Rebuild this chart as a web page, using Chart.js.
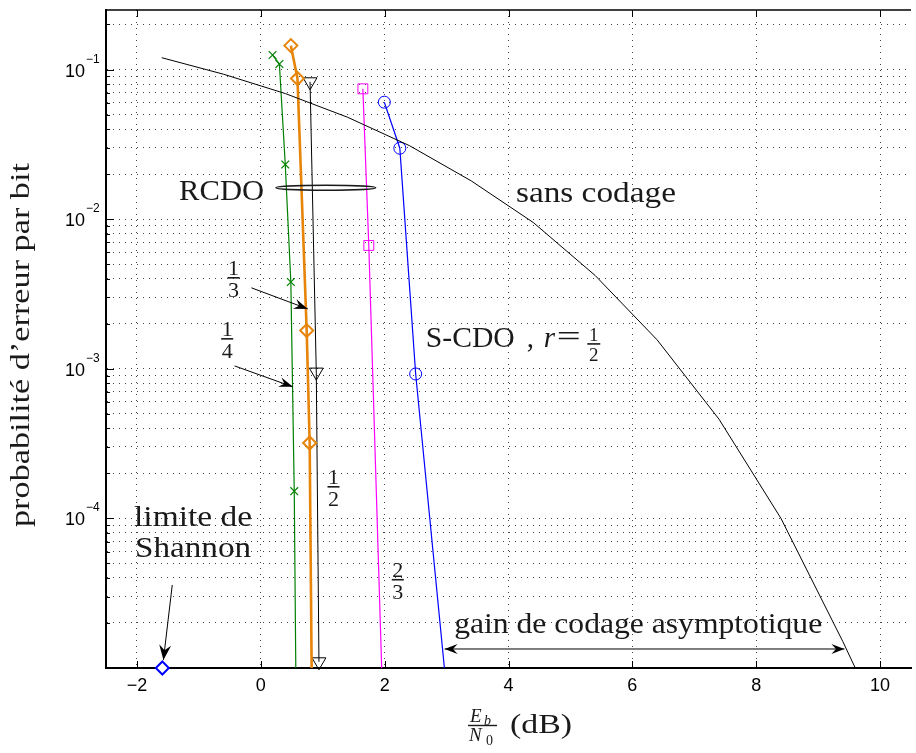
<!DOCTYPE html>
<html>
<head>
<meta charset="utf-8">
<title>Probabilité d'erreur par bit</title>
<script src="https://cdn.jsdelivr.net/npm/chart.js@4.4.0/dist/chart.umd.min.js"></script>
<style>
  html, body { margin: 0; padding: 0; background: #fff; overflow: hidden; }
  #wrap { width: 920px; height: 753px; }
</style>
</head>
<body>
<div id="wrap"><canvas id="berChart" width="920" height="753"></canvas></div>
<script>
// values: Eb/N0 in dB, bit error probability
const uncodedEbN0 = [-1.6, -0.6, 0.4, 1.4, 2.4, 3.4, 4.4, 5.4, 6.4, 7.4, 8.4, 9.4, 9.6];
const uncodedBer = [0.12, 0.093, 0.069, 0.048, 0.031, 0.018, 0.0095, 0.0042, 0.00156, 0.00046, 0.0001, 0.000015, 0.00001];

const rcdoQuarterEbN0 = [0.19, 0.30, 0.395, 0.485, 0.54, 0.565];
const rcdoQuarterBer = [0.125, 0.109, 0.0232, 0.0038, 0.000152, 0.00001];

const rcdoThirdEbN0 = [0.485, 0.592, 0.741, 0.789, 0.821];
const rcdoThirdBer = [0.1445, 0.0871, 0.0018, 0.000319, 0.00001];

const rcdoHalfEbN0 = [0.795, 0.896, 0.939];
const rcdoHalfBer = [0.0828, 0.00095, 0.000011];

const rcdoTwoThirdsEbN0 = [1.648, 1.744, 1.952];
const rcdoTwoThirdsBer = [0.0743, 0.00667, 0.00001];

const scdoEbN0 = [1.995, 2.245, 2.501, 2.965];
const scdoBer = [0.0605, 0.0298, 0.000923, 0.00001];

const shannonEbN0 = [-1.59];
const shannonBer = [0.00001];

const xTicks = [-2, 0, 2, 4, 6, 8, 10];
const yDecades = [1e-5, 1e-4, 1e-3, 1e-2, 1e-1];
const yLabelDecades = [1e-4, 1e-3, 1e-2, 1e-1];
const yLabelExponents = ['\u22124', '\u22123', '\u22122', '\u22121'];

const SERIF = '"Liberation Serif", "Times New Roman", serif';
const SANS = '"Liberation Sans", Arial, sans-serif';

function toPoints(xs, ys) {
  return xs.map((x, i) => ({ x: x, y: ys[i] }));
}

// marker on every point except the last one (where the curve leaves the plot)
function radiiNoLast(n, r) {
  const arr = new Array(n).fill(r);
  arr[n - 1] = 0;
  return arr;
}

function yTickValues() {
  const out = [];
  yDecades.forEach(d => {
    for (let m = 1; m <= 9; m++) {
      const v = d * m;
      if (v <= 0.25 * 1.0001) out.push({ value: v, major: m === 1 });
    }
  });
  return out;
}

function serifText(ctx, text, x, y, size, width, align, italic) {
  ctx.save();
  ctx.font = (italic ? 'italic ' : '') + size + 'px ' + SERIF;
  const w = ctx.measureText(text).width;
  const sx = width ? width / w : 1;
  let left = x;
  if (align === 'center') left = x - w * sx / 2;
  if (align === 'right') left = x - w * sx;
  ctx.translate(left, y);
  ctx.scale(sx, 1);
  ctx.textAlign = 'left';
  ctx.textBaseline = 'alphabetic';
  ctx.fillText(text, 0, 0);
  ctx.restore();
}

function fraction(ctx, num, den, cx, barY, size, barW) {
  ctx.save();
  ctx.font = size + 'px ' + SERIF;
  ctx.textAlign = 'center';
  ctx.textBaseline = 'alphabetic';
  ctx.fillText(num, cx, barY - 3);
  ctx.fillText(den, cx, barY + 4 + size * 0.68);
  ctx.lineWidth = 1.6;
  ctx.beginPath();
  ctx.moveTo(cx - barW / 2, barY);
  ctx.lineTo(cx + barW / 2, barY);
  ctx.stroke();
  ctx.restore();
}

function arrowHead(ctx, x1, y1, x2, y2, len, half) {
  const a = Math.atan2(y2 - y1, x2 - x1);
  ctx.save();
  ctx.translate(x2, y2);
  ctx.rotate(a);
  ctx.beginPath();
  ctx.moveTo(0, 0);
  ctx.lineTo(-len, -half);
  ctx.lineTo(-len * 0.65, 0);
  ctx.lineTo(-len, half);
  ctx.closePath();
  ctx.fill();
  ctx.restore();
}

function arrow(ctx, x1, y1, x2, y2, len, half, both) {
  ctx.beginPath();
  ctx.moveTo(x1, y1);
  ctx.lineTo(x2, y2);
  ctx.stroke();
  arrowHead(ctx, x1, y1, x2, y2, len, half);
  if (both) arrowHead(ctx, x2, y2, x1, y1, len, half);
}

const decorations = {
  id: 'decorations',
  afterDraw(chart) {
    const ctx = chart.ctx;
    const xs = chart.scales.x;
    const ys = chart.scales.y;
    const area = chart.chartArea;
    const px = v => xs.getPixelForValue(v);
    const py = lg => ys.getPixelForValue(Math.pow(10, lg));

    ctx.save();
    ctx.strokeStyle = '#000';
    ctx.fillStyle = '#000';

    // inward tick marks
    ctx.lineWidth = 1;
    ys.ticks.forEach(t => {
      const y = Math.round(ys.getPixelForValue(t.value)) + 0.5;
      const len = t.major ? 8 : 4;
      ctx.beginPath();
      ctx.moveTo(area.left, y);
      ctx.lineTo(area.left + len, y);
      ctx.stroke();
    });
    xs.ticks.forEach(t => {
      const x = Math.round(xs.getPixelForValue(t.value)) + 0.5;
      ctx.beginPath();
      ctx.moveTo(x, area.bottom);
      ctx.lineTo(x, area.bottom - 7);
      ctx.moveTo(x, area.top);
      ctx.lineTo(x, area.top + 7);
      ctx.stroke();
    });

    // top frame line
    ctx.lineWidth = 1.5;
    ctx.beginPath();
    ctx.moveTo(area.left, area.top);
    ctx.lineTo(area.right, area.top);
    ctx.stroke();

    // y tick labels 10^-n
    ctx.textBaseline = 'alphabetic';
    yLabelDecades.forEach((v, i) => {
      const y = ys.getPixelForValue(v);
      ctx.font = '18px ' + SANS;
      ctx.textAlign = 'right';
      ctx.fillText('10', area.left - 21, y + 7);
      ctx.font = '12px ' + SANS;
      ctx.textAlign = 'left';
      ctx.fillText(yLabelExponents[i], area.left - 20, y - 7);
    });

    // axis titles
    ctx.fillStyle = '#1a1a1a';
    ctx.save();
    ctx.translate(29, 345);
    ctx.rotate(-Math.PI / 2);
    serifText(ctx, "probabilit\u00e9 d\u2019erreur par bit", 0, 0, 28, 364, 'center');
    ctx.restore();

    serifText(ctx, 'E', 470, 722, 19, 0, 'left', true);
    serifText(ctx, 'b', 484, 725, 14, 0, 'left', true);
    serifText(ctx, 'N', 469, 741, 19, 0, 'left', true);
    serifText(ctx, '0', 486, 745, 14, 0, 'left');
    ctx.lineWidth = 1.4;
    ctx.strokeStyle = '#1a1a1a';
    ctx.beginPath();
    ctx.moveTo(468, 725.5);
    ctx.lineTo(497, 725.5);
    ctx.stroke();
    serifText(ctx, '(dB)', 510, 733, 28, 62, 'left');

    // annotations
    serifText(ctx, 'RCDO', px(-1.32), py(-1.871), 29, 85, 'left');
    ctx.lineWidth = 1.4;
    ctx.beginPath();
    ctx.ellipse(px(1.05), py(-1.79), 50, 2.5, 0, 0, Math.PI * 2);
    ctx.stroke();

    serifText(ctx, 'sans codage', px(4.12), py(-1.886), 29, 160, 'left');

    const sx = px(2.664);
    const sy = py(-2.854);
    serifText(ctx, 'S-CDO', sx, sy, 29, 89, 'left');
    serifText(ctx, ',', sx + 101, sy, 29, 0, 'left');
    serifText(ctx, 'r', sx + 118, sy, 29, 0, 'left', true);
    serifText(ctx, '=', sx + 131, sy - 1, 29, 24, 'left');
    fraction(ctx, '1', '2', sx + 168, sy - 3, 19, 13);

    fraction(ctx, '1', '3', px(-0.439), py(-2.392), 22, 12);
    fraction(ctx, '1', '4', px(-0.543), py(-2.800), 22, 12);
    fraction(ctx, '1', '2', px(1.174), py(-3.789), 22, 12);
    fraction(ctx, '2', '3', px(2.212), py(-4.410), 22, 12);

    serifText(ctx, 'limite de', px(-1.094), py(-4.050), 29, 118, 'center');
    serifText(ctx, 'Shannon', px(-1.094), py(-4.257), 29, 116, 'center');

    serifText(ctx, 'gain de codage asymptotique', px(6.094), py(-4.766), 29, 368, 'center');

    ctx.fillStyle = '#000';
    ctx.strokeStyle = '#000';
    ctx.lineWidth = 1;
    arrow(ctx, px(-0.152), py(-2.459), px(0.759), py(-2.600), 14, 5);
    arrow(ctx, px(-0.423), py(-2.981), px(0.519), py(-3.121), 14, 5);
    arrow(ctx, px(-1.430), py(-4.445), px(-1.573), py(-4.946), 15, 6);
    arrow(ctx, px(2.968), py(-4.873), px(9.425), py(-4.873), 13, 5, true);

    ctx.restore();
  }
};

document.addEventListener('DOMContentLoaded', function () {
  const canvas = document.getElementById('berChart');

  new Chart(canvas, {
    type: 'line',
    data: {
      datasets: [
        {
          label: 'sans codage',
          data: toPoints(uncodedEbN0, uncodedBer),
          borderColor: '#000',
          borderWidth: 1,
          pointRadius: 0
        },
        {
          label: 'RCDO 1/4',
          data: toPoints(rcdoQuarterEbN0, rcdoQuarterBer),
          borderColor: '#008000',
          borderWidth: 1.2,
          pointStyle: 'crossRot',
          pointRadius: radiiNoLast(rcdoQuarterEbN0.length, 5.5),
          pointBorderColor: '#008000',
          pointBorderWidth: 1.2
        },
        {
          label: 'RCDO 1/3',
          data: toPoints(rcdoThirdEbN0, rcdoThirdBer),
          borderColor: '#e6850a',
          borderWidth: 2.6,
          pointStyle: 'rectRot',
          pointRadius: radiiNoLast(rcdoThirdEbN0.length, 6.5),
          pointBorderColor: '#e6850a',
          pointBackgroundColor: 'rgba(255,255,255,0)',
          pointBorderWidth: 2
        },
        {
          label: 'RCDO 1/2',
          data: toPoints(rcdoHalfEbN0, rcdoHalfBer),
          borderColor: '#000',
          borderWidth: 1,
          pointStyle: 'triangle',
          rotation: 180,
          pointRadius: 8,
          pointBorderColor: '#000',
          pointBackgroundColor: 'rgba(255,255,255,0)',
          pointBorderWidth: 1,
          clip: false
        },
        {
          label: 'RCDO 2/3',
          data: toPoints(rcdoTwoThirdsEbN0, rcdoTwoThirdsBer),
          borderColor: '#ff00ff',
          borderWidth: 1.2,
          pointStyle: 'rect',
          pointRadius: radiiNoLast(rcdoTwoThirdsEbN0.length, 7),
          pointBorderColor: '#ff00ff',
          pointBackgroundColor: 'rgba(255,255,255,0)',
          pointBorderWidth: 1
        },
        {
          label: 'S-CDO r=1/2',
          data: toPoints(scdoEbN0, scdoBer),
          borderColor: '#0000ff',
          borderWidth: 1.2,
          pointStyle: 'circle',
          pointRadius: radiiNoLast(scdoEbN0.length, 6),
          pointBorderColor: '#0000ff',
          pointBackgroundColor: 'rgba(255,255,255,0)',
          pointBorderWidth: 1
        },
        {
          label: 'limite de Shannon',
          data: toPoints(shannonEbN0, shannonBer),
          showLine: false,
          pointStyle: 'rectRot',
          pointRadius: 6.5,
          pointBorderColor: '#0000ff',
          pointBackgroundColor: '#fff',
          pointBorderWidth: 2,
          clip: false
        }
      ]
    },
    options: {
      responsive: false,
      animation: false,
      layout: { padding: { top: 10, right: 0, left: 0, bottom: 0 } },
      elements: { line: { tension: 0 } },
      plugins: {
        legend: { display: false },
        tooltip: { enabled: false }
      },
      scales: {
        x: {
          type: 'linear',
          min: -2.5,
          max: 10.5,
          afterBuildTicks: s => { s.ticks = xTicks.map(v => ({ value: v })); },
          afterFit: s => { s.height = 85; },
          grid: { color: '#444', lineWidth: 1, drawTicks: false },
          border: { display: true, color: '#000', width: 2, dash: [1, 5] },
          ticks: {
            padding: 7,
            color: '#000',
            maxRotation: 0,
            autoSkip: false,
            font: { family: SANS, size: 18 },
            callback: v => (v < 0 ? '\u2212' + Math.abs(v) : String(v))
          }
        },
        y: {
          type: 'logarithmic',
          min: 1e-5,
          max: 0.25,
          afterBuildTicks: s => { s.ticks = yTickValues(); },
          afterFit: s => { s.width = 106; },
          grid: { color: '#444', lineWidth: 1, drawTicks: false },
          border: { display: true, color: '#000', width: 2, dash: [1, 5] },
          ticks: { display: false }
        }
      }
    },
    plugins: [decorations]
  });
});
</script>
</body>
</html>
